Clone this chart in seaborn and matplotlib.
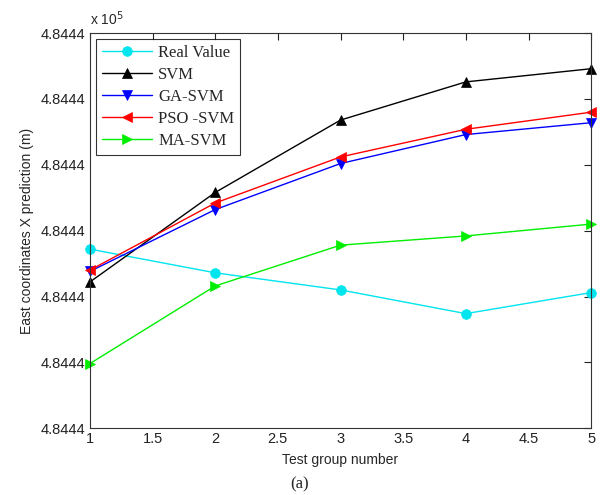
import numpy as np
import pandas as pd
import matplotlib
matplotlib.use("Agg")
import matplotlib.pyplot as plt
from matplotlib.ticker import FuncFormatter, MultipleLocator
import seaborn as sns

# test groups and predicted east coordinates (m)
groups = [1, 2, 3, 4, 5]
real_value = [484442.36, 484442.18, 484442.05, 484441.87, 484442.03]
svm = [484442.11, 484442.79, 484443.34, 484443.63, 484443.73]
ga_svm = [484442.19, 484442.66, 484443.01, 484443.23, 484443.32]
pso_svm = [484442.20, 484442.71, 484443.06, 484443.27, 484443.40]
ma_svm = [484441.49, 484442.08, 484442.39, 484442.46, 484442.55]

series = {
    "Real Value": real_value,
    "SVM": svm,
    "GA-SVM": ga_svm,
    "PSO -SVM": pso_svm,
    "MA-SVM": ma_svm,
}
df = pd.concat(
    [pd.DataFrame({"group": groups, "east": v, "method": k}) for k, v in series.items()],
    ignore_index=True,
)

colors = {"Real Value": "#00e5ee", "SVM": "black", "GA-SVM": "blue",
          "PSO -SVM": "red", "MA-SVM": "#00ee00"}
markers = {"Real Value": "o", "SVM": "^", "GA-SVM": "v",
           "PSO -SVM": "<", "MA-SVM": ">"}

sns.set_style("white")
plt.rcParams["font.family"] = ["Liberation Sans", "DejaVu Sans"]

fig = plt.figure(figsize=(6.07, 4.95), dpi=100)
ax = fig.add_axes([0.148, 0.135, 0.826, 0.798])

sns.lineplot(data=df, x="group", y="east", hue="method", style="method",
             palette=colors, markers=markers, dashes=False, linewidth=1.0,
             markersize=7, markeredgewidth=0.5, ax=ax)
for line in ax.lines:
    line.set_markeredgecolor(line.get_color())
    line.set_clip_on(False)

ax.set_xlim(1, 5)
ax.set_ylim(484441.0, 484444.0)
ax.xaxis.set_major_locator(MultipleLocator(0.5))
ax.yaxis.set_major_locator(MultipleLocator(0.5))
ax.xaxis.set_major_formatter(FuncFormatter(lambda v, p: f"{v:g}"))
ax.yaxis.set_major_formatter(FuncFormatter(lambda v, p: f"{v/1e5:.4f}"))
ax.tick_params(direction="in", length=5, top=True, right=True,
               labelsize=10.5, colors="#222222", width=0.8, pad=3)
for s in ax.spines.values():
    s.set_color("#333333")
    s.set_linewidth(0.8)

ax.set_xlabel("Test group number", fontsize=10, labelpad=5)
ax.set_ylabel("East coordinates X prediction (m)", fontsize=10, labelpad=5)
ax.text(0.0, 1.012, r"x 10$^5$", transform=ax.transAxes, fontsize=10,
        ha="left", va="bottom")

leg = ax.legend(loc="upper left", bbox_to_anchor=(0.012, 0.985), frameon=True,
                fancybox=False, edgecolor="black", handlelength=3.0,
                borderpad=0.35, labelspacing=0.36, handletextpad=0.4,
                borderaxespad=0.0,
                prop={"family": "Liberation Serif", "size": 12})
leg.get_frame().set_linewidth(0.8)

fig.text(0.494, 0.005, "(a)", fontsize=12, family="Liberation Serif",
         ha="center", va="bottom")

fig.savefig("out.png", dpi=100, facecolor="white")
